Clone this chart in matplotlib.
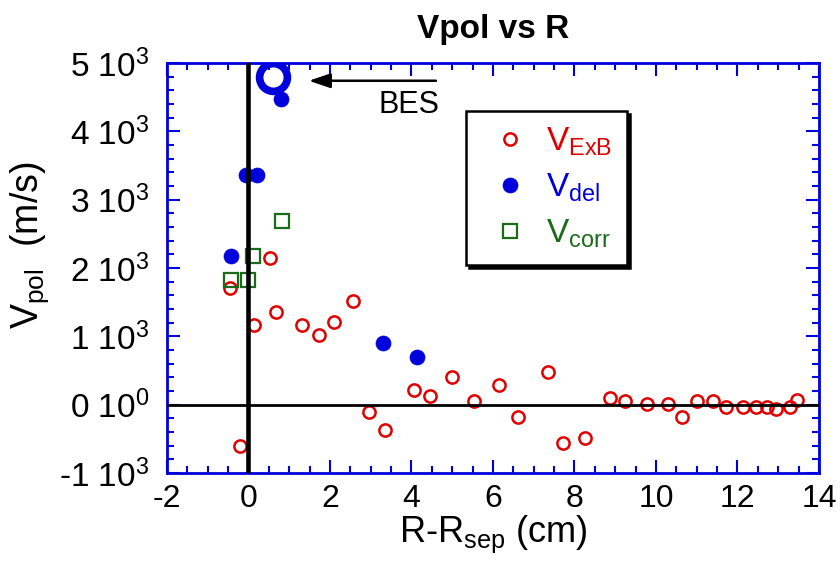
import matplotlib
matplotlib.use('Agg')
import matplotlib.pyplot as plt
from matplotlib.ticker import MultipleLocator

plt.rcParams['font.family'] = ['Liberation Sans', 'DejaVu Sans']
plt.rcParams['mathtext.fontset'] = 'custom'
plt.rcParams['mathtext.rm'] = 'Liberation Sans'
plt.rcParams['mathtext.default'] = 'regular'
plt.rcParams['axes.unicode_minus'] = False

# poloidal velocity from E x B
r_exb = [-0.45, -0.20, 0.14, 0.53, 0.67, 1.32, 1.72, 2.10, 2.56, 2.96, 3.36,
         4.07, 4.46, 4.99, 5.54, 6.15, 6.62, 7.34, 7.73, 8.26, 8.86, 9.25,
         9.78, 10.30, 10.63, 11.01, 11.41, 11.73, 12.13, 12.46, 12.73, 12.94,
         13.30, 13.45]
v_exb = [1700, -610, 1170, 2140, 1360, 1170, 1015, 1210, 1510, -105, -370,
         220, 125, 400, 55, 280, -180, 470, -565, -485, 90, 55,
         10, 10, -180, 55, 55, -35, -30, -30, -30, -65,
         -30, 60]

# poloidal velocity from delay (filled)
r_del = [-0.44, -0.05, 0.20, 0.79, 3.29, 4.14]
v_del = [2170, 3360, 3360, 4470, 905, 700]

# poloidal velocity from correlation
r_corr = [-0.44, -0.02, 0.11, 0.81]
v_corr = [1825, 1825, 2170, 2690]

# BES measurement
r_bes = [0.61]
v_bes = [4800]

x_ticks = [-2, 0, 2, 4, 6, 8, 10, 12, 14]
x_labels = ['-2', '0', '2', '4', '6', '8', '10', '12', '14']
y_ticks = [-1000, 0, 1000, 2000, 3000, 4000, 5000]
y_labels = ['-1 10$^3$', '0 10$^0$', '1 10$^3$', '2 10$^3$',
            '3 10$^3$', '4 10$^3$', '5 10$^3$']

red = '#e00000'
blue = '#0000dd'
green = '#1a6b1a'

fig = plt.figure(figsize=(8.4, 5.65), dpi=100)
ax = fig.add_axes([0.1988, 0.163, 0.7762, 0.7255])

ax.plot(r_exb, v_exb, 'o', ls='none', ms=8.8, mfc='none', mec=red, mew=1.8,
        label='V$_{ExB}$')
ax.plot(r_del, v_del, 'o', ls='none', ms=10.8, mfc=blue, mec=blue, mew=0.5,
        label='V$_{del}$')
ax.plot(r_corr, v_corr, 's', ls='none', ms=9.8, mfc='none', mec=green, mew=1.6,
        label='V$_{corr}$')
ax.plot(r_bes, v_bes, 'o', ls='none', ms=20, mfc='none', mec=blue, mew=5.5)

ax.axvline(0, color='k', lw=3.3, zorder=3)
ax.axhline(0, color='k', lw=2, zorder=3)

ax.annotate('', xy=(1.48, 4740), xytext=(4.6, 4740),
            arrowprops=dict(arrowstyle='-|>,head_length=0.65,head_width=0.22',
                            color='k', lw=1.8, mutation_scale=20,
                            shrinkA=0, shrinkB=0))
ax.text(3.94, 4390, 'BES', ha='center', va='center', fontsize=22)

ax.set_xlim(-2, 14)
ax.set_ylim(-955, 4970)
ax.set_xticks(x_ticks, x_labels)
ax.set_yticks(y_ticks, y_labels)
ax.xaxis.set_minor_locator(MultipleLocator(0.5))
ax.yaxis.set_minor_locator(MultipleLocator(200))

for s in ax.spines.values():
    s.set_color(blue)
    s.set_linewidth(2)
ax.tick_params(which='both', direction='in', top=True, right=True,
               color=blue, width=1.5)
ax.tick_params(which='major', length=9.5)
ax.tick_params(which='minor', length=5)
ax.tick_params(axis='x', labelsize=23, pad=8)
ax.tick_params(axis='y', labelsize=24, pad=13)

ax.set_xlabel('R-R$_{sep}$ (cm)', fontsize=26, labelpad=0)
ax.set_ylabel('V$_{pol}$  (m/s)', fontsize=27)
ax.yaxis.set_label_coords(-0.178, 0.555)
ax.set_title('Vpol vs R', fontsize=24, fontweight='bold', pad=18)

leg = ax.legend(loc='upper left', bbox_to_anchor=(0.459, 0.883),
                borderaxespad=0, fontsize=24, handlelength=1.75,
                handletextpad=0.2, borderpad=0.45, labelspacing=0.4,
                fancybox=False, framealpha=1,
                shadow={'color': 'k', 'alpha': 1})
leg.get_frame().set_edgecolor('k')
leg.get_frame().set_linewidth(1.8)
for t, c in zip(leg.get_texts(), [red, blue, green]):
    t.set_color(c)

fig.savefig('out.png', dpi=100)
